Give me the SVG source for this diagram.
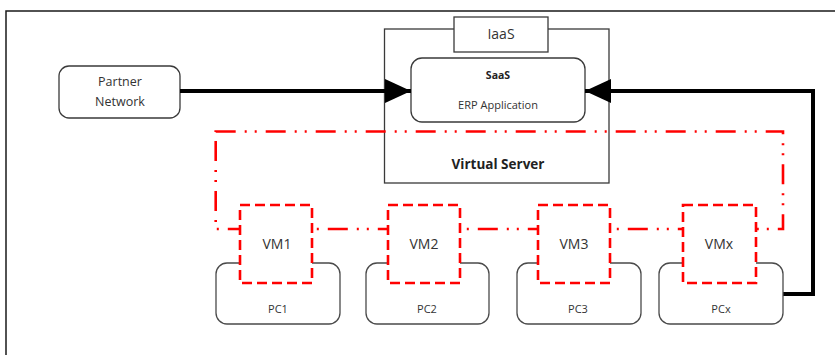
<svg xmlns="http://www.w3.org/2000/svg" width="835" height="355" viewBox="0 0 835 355">
<style>
  .box { fill: #ffffff; stroke: #3a3a3a; stroke-width: 1.3; }
  .pc { fill: #ffffff; stroke: #4a4a4a; stroke-width: 1.3; }
  .vm { fill: #ffffff; stroke: #ff0000; stroke-width: 2.6; stroke-dasharray: 10 5; }
  .loop { fill: none; stroke: #ff0000; stroke-width: 2.6; stroke-dasharray: 20 9 2 8 2 9; }
  .wire { fill: none; stroke: #000000; stroke-width: 4; }
  .t { font-family: "Open Sans", "DejaVu Sans", sans-serif; fill: #333333; text-anchor: middle; }
  .b { font-weight: bold; fill: #222222; }
</style>
<defs>
  <marker id="ah" viewBox="0 0 26 24" refX="26" refY="12" markerWidth="26" markerHeight="24" markerUnits="userSpaceOnUse" orient="auto">
    <path d="M0,0 L26,12 L0,24 Z" fill="#000000"/>
  </marker>
</defs>
<rect x="6" y="11" width="840" height="360" fill="#ffffff" stroke="#1a1a1a" stroke-width="1.5"/>
<g id="virtual-server">
  <rect class="box" x="384.5" y="29" width="224.5" height="154"/>
  <text class="t b" x="498" y="169" font-size="13.5">Virtual Server</text>
</g>
<g id="iaas">
  <rect class="box" x="454" y="17" width="94" height="35"/>
  <text class="t" x="501" y="39" font-size="14">IaaS</text>
</g>
<g id="saas">
  <rect class="box" x="411" y="58" width="174" height="64" rx="11" ry="11"/>
  <text class="t b" x="498" y="79" font-size="10.5">SaaS</text>
  <text class="t" x="498" y="109" font-size="11">ERP Application</text>
</g>
<g id="partner-network">
  <rect class="box" x="59" y="66" width="121" height="52" rx="10" ry="10"/>
  <text class="t" x="120" y="86" font-size="12.5">Partner</text>
  <text class="t" x="120" y="106" font-size="12.5">Network</text>
</g>
<g id="connectors">
  <rect class="loop" x="215.7" y="131.5" width="567.3" height="97.5"/>
  <path class="wire" d="M180,91 L411,91" marker-end="url(#ah)"/>
  <path class="wire" d="M783,294 L813,294 L813,91 L585,91" marker-end="url(#ah)"/>
</g>
<g id="pc1">
  <rect class="pc" x="216" y="263" width="124" height="61" rx="11" ry="11"/>
  <text class="t" x="278" y="313" font-size="11">PC1</text>
</g>
<g id="pc2">
  <rect class="pc" x="366" y="263" width="123" height="61" rx="11" ry="11"/>
  <text class="t" x="427" y="313" font-size="11">PC2</text>
</g>
<g id="pc3">
  <rect class="pc" x="517" y="263" width="124" height="61" rx="11" ry="11"/>
  <text class="t" x="578" y="313" font-size="11">PC3</text>
</g>
<g id="pcx">
  <rect class="pc" x="659" y="263" width="124" height="61" rx="11" ry="11"/>
  <text class="t" x="721" y="313" font-size="11">PCx</text>
</g>
<g id="vm1">
  <rect class="vm" x="240" y="205" width="72" height="78"/>
  <text class="t" x="277" y="249" font-size="14">VM1</text>
</g>
<g id="vm2">
  <rect class="vm" x="388" y="205" width="72" height="78"/>
  <text class="t" x="424" y="249" font-size="14">VM2</text>
</g>
<g id="vm3">
  <rect class="vm" x="538" y="205" width="72" height="78"/>
  <text class="t" x="574" y="249" font-size="14">VM3</text>
</g>
<g id="vmx">
  <rect class="vm" x="683" y="205" width="73" height="78"/>
  <text class="t" x="719" y="249" font-size="14">VMx</text>
</g>
</svg>
